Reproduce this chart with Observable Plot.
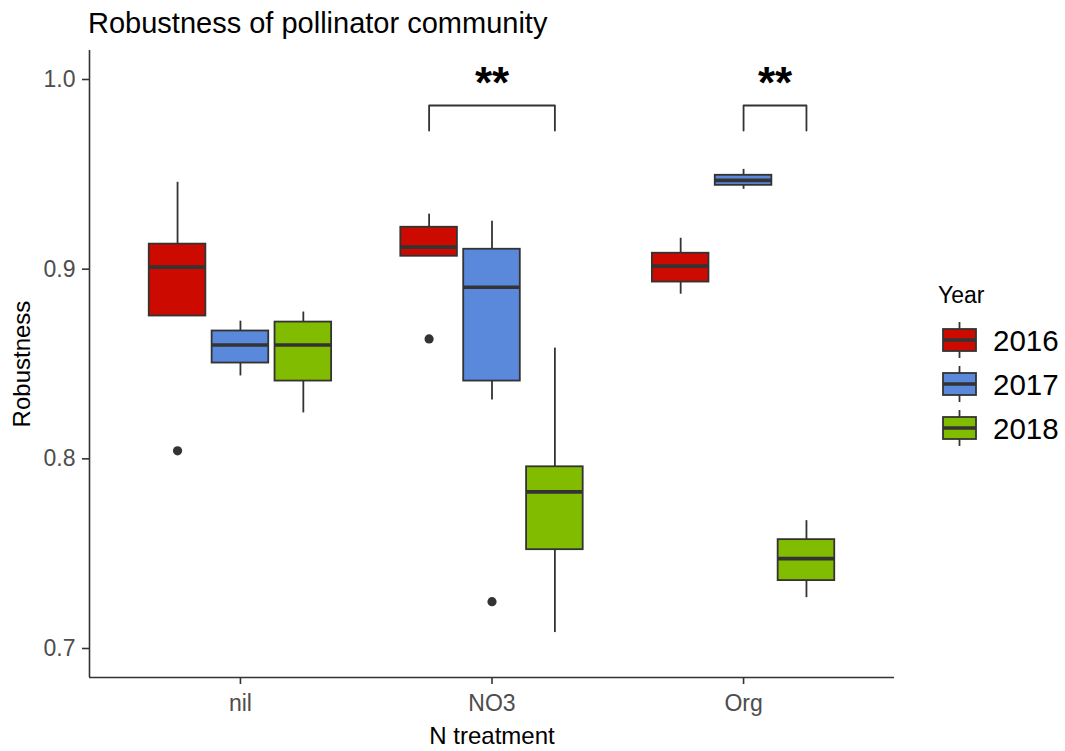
<!DOCTYPE html>
<html>
<head>
<meta charset="utf-8">
<script src="https://cdn.jsdelivr.net/npm/d3@7"></script>
<script src="https://cdn.jsdelivr.net/npm/@observablehq/plot@0.6"></script>
<style>
  body { margin: 0; background: #fff; font-family: "Liberation Sans", Arial, sans-serif; }
  #chart { position: relative; width: 1065px; height: 751px; overflow: hidden; }
  #title { position: absolute; left: 88px; top: 9px; font-size: 29px; line-height: 29px; color: #000; white-space: nowrap; }
  #plot { position: absolute; left: 0; top: 40px; }
  #legend { position: absolute; left: 930px; top: 270px; }
</style>
</head>
<body>
<div id="chart">
  <div id="title">Robustness of pollinator community</div>
  <div id="plot"></div>
  <div id="legend"></div>
</div>
<script>
// Treatments on the x axis and the years that are dodged within each one
const treatments = ["nil", "NO3", "Org"];
const years = ["2016", "2017", "2018"];
const yearColors = ["#CC0A00", "#5A88DA", "#82BC00"];

// Box summaries, one entry per treatment × year
const groupTreatment = ["nil", "nil", "nil", "NO3", "NO3", "NO3", "Org", "Org", "Org"];
const groupYear      = ["2016", "2017", "2018", "2016", "2017", "2018", "2016", "2017", "2018"];
const lowerWhisker   = [0.8753, 0.8437, 0.8242, 0.9068, 0.8310, 0.7084, 0.8868, 0.9421, 0.7268];
const lowerHinge     = [0.8753, 0.8505, 0.8410, 0.9068, 0.8410, 0.7521, 0.8932, 0.9442, 0.7358];
const medianValue    = [0.9011, 0.8600, 0.8600, 0.9116, 0.8905, 0.7826, 0.9016, 0.9468, 0.7474];
const upperHinge     = [0.9132, 0.8674, 0.8721, 0.9221, 0.9105, 0.7958, 0.9084, 0.9495, 0.7574];
const upperWhisker   = [0.9458, 0.8726, 0.8774, 0.9290, 0.9253, 0.8584, 0.9163, 0.9526, 0.7674];

// Outlying observations
const outlierTreatment = ["nil", "NO3", "NO3"];
const outlierYear      = ["2016", "2016", "2017"];
const outlierValue     = [0.8042, 0.8632, 0.7247];

// Significance brackets between years within a treatment
const signifTreatment = ["NO3", "Org"];
const signifFrom      = ["2016", "2017"];
const signifTo        = ["2018", "2018"];
const signifLabel     = ["**", "**"];

// y axis ticks
const yTicks = [0.7, 0.8, 0.9, 1.0];

// ---- layout constants (ggplot-like dodge) ----
const dodgeStep = 0.25;        // distance between dodged boxes
const boxHalf = 0.1125;        // half box width
const xDomain = [0.4, 3.6];
const yDomain = [0.68471, 1.01529];
const bracketTop = 0.9863, bracketFoot = 0.9731, starY = 0.9976;
const ink = "#333333";

const pos = (t, y) => treatments.indexOf(t) + 1 + (years.indexOf(y) - 1) * dodgeStep;

const boxes = groupTreatment.map((t, i) => ({
  treatment: t, year: groupYear[i],
  lw: lowerWhisker[i], q1: lowerHinge[i], med: medianValue[i], q3: upperHinge[i], uw: upperWhisker[i]
}));
const outliers = outlierTreatment.map((t, i) => ({treatment: t, year: outlierYear[i], value: outlierValue[i]}));
const signif = signifTreatment.map((t, i) => ({treatment: t, from: signifFrom[i], to: signifTo[i], label: signifLabel[i]}));
const bracketPts = signif.flatMap((s, i) => [
  {k: i, x: pos(s.treatment, s.from), y: bracketFoot},
  {k: i, x: pos(s.treatment, s.from), y: bracketTop},
  {k: i, x: pos(s.treatment, s.to), y: bracketTop},
  {k: i, x: pos(s.treatment, s.to), y: bracketFoot}
]);

const bx = d => pos(d.treatment, d.year);

const chart = Plot.plot({
  width: 910,
  height: 711,
  marginTop: 10,
  marginBottom: 74,
  marginLeft: 89,
  marginRight: 16,
  style: {fontFamily: "'Liberation Sans', Arial, sans-serif", background: "#fff"},
  x: {domain: xDomain},
  y: {domain: yDomain},
  color: {domain: years, range: yearColors},
  marks: [
    // whiskers
    Plot.ruleX(boxes, {x: bx, y1: "lw", y2: "q1", stroke: ink, strokeWidth: 1.8}),
    Plot.ruleX(boxes, {x: bx, y1: "q3", y2: "uw", stroke: ink, strokeWidth: 1.8}),
    // boxes
    Plot.rectY(boxes, {
      x1: d => bx(d) - boxHalf, x2: d => bx(d) + boxHalf,
      y1: "q1", y2: "q3", fill: "year", stroke: ink, strokeWidth: 1.8
    }),
    // medians
    Plot.ruleY(boxes, {y: "med", x1: d => bx(d) - boxHalf, x2: d => bx(d) + boxHalf, stroke: ink, strokeWidth: 3.6}),
    // outliers
    Plot.dot(outliers, {x: bx, y: "value", r: 4.6, fill: ink, stroke: null}),
    // significance brackets and labels
    Plot.line(bracketPts, {x: "x", y: "y", z: "k", stroke: ink, strokeWidth: 1.8}),
    Plot.text(signif, {
      x: d => (pos(d.treatment, d.from) + pos(d.treatment, d.to)) / 2, y: () => starY,
      text: "label", fontSize: 44, fontWeight: "bold", lineAnchor: "middle", fill: "#000"
    }),
    // axis lines
    Plot.ruleX([xDomain[0]], {stroke: ink, strokeWidth: 1.6}),
    Plot.ruleY([yDomain[0]], {stroke: ink, strokeWidth: 1.6}),
    // axes
    Plot.axisY(yTicks, {
      tickSize: 7, tickPadding: 7, fontSize: 23, tickFormat: d3.format(".1f"),
      stroke: ink, fill: "#4d4d4d", strokeWidth: 1.6, label: null
    }),
    Plot.axisX([1, 2, 3], {
      tickSize: 7, tickPadding: 10, fontSize: 23, tickFormat: d => treatments[d - 1],
      stroke: ink, fill: "#4d4d4d", strokeWidth: 1.6, label: null
    }),
    // axis titles
    Plot.text(["N treatment"], {frameAnchor: "bottom", dy: 59, text: d => d, fontSize: 24, lineAnchor: "middle", fill: "#000"}),
    Plot.text(["Robustness"], {frameAnchor: "left", dx: -67, rotate: -90, text: d => d, fontSize: 24, textAnchor: "middle", lineAnchor: "middle", fill: "#000"})
  ]
});
document.getElementById("plot").appendChild(chart);

// Legend: box-shaped keys for each year
const lg = d3.select("#legend").append("svg")
  .attr("width", 135).attr("height", 180)
  .style("font-family", "'Liberation Sans', Arial, sans-serif");
lg.append("text").attr("x", 8).attr("y", 33).attr("font-size", 23).attr("fill", "#000").text("Year");
years.forEach((yr, i) => {
  const cy = 70 + i * 44;
  const g = lg.append("g");
  g.append("line").attr("x1", 29.5).attr("x2", 29.5).attr("y1", cy - 18).attr("y2", cy + 18)
    .attr("stroke", ink).attr("stroke-width", 1.8);
  g.append("rect").attr("x", 13).attr("y", cy - 11).attr("width", 33).attr("height", 22)
    .attr("fill", yearColors[i]).attr("stroke", ink).attr("stroke-width", 1.8);
  g.append("line").attr("x1", 13).attr("x2", 46).attr("y1", cy).attr("y2", cy)
    .attr("stroke", ink).attr("stroke-width", 3.6);
  g.append("text").attr("x", 63).attr("y", cy + 11).attr("font-size", 29.5).attr("fill", "#000").text(yr);
});
</script>
</body>
</html>
